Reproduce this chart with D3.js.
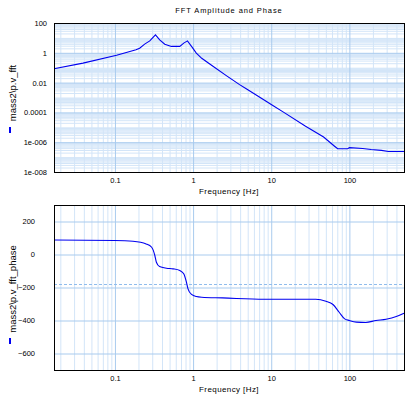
<!DOCTYPE html>
<html>
<head>
<meta charset="utf-8">
<script src="https://cdn.jsdelivr.net/npm/d3@7"></script>
<style>
  body { margin: 0; background: #fff; }
  text { font-family: "Liberation Sans", Arial, sans-serif; fill: #000; }
</style>
</head>
<body>
<svg width="412" height="398"></svg>
<script>
// amplitude spectrum
const ampFreq = [0.0166, 0.039, 0.105, 0.186, 0.207, 0.24, 0.279, 0.33, 0.374, 0.434, 0.528, 0.676,
                 0.759, 0.847, 0.955, 1.10, 1.29, 1.74, 2.69, 3.89, 4.9, 8.91, 10, 14.5, 27.5, 46.8,
                 64.6, 70.8, 95.5, 100, 148, 190, 257, 316, 500];
const ampValues = [0.085, 0.204, 0.676, 1.58, 2.04, 3.8, 6.3, 15.8, 7.4, 3.8, 2.69, 2.69,
                   4.47, 6.3, 2.69, 0.955, 0.427, 0.141, 0.0282, 0.00759, 0.00355, 5.0e-4, 3.39e-4, 1.0e-4, 1.17e-5, 2.24e-6,
                   5.37e-7, 3.63e-7, 3.63e-7, 4.3e-7, 3.8e-7, 3.24e-7, 2.82e-7, 2.4e-7, 2.4e-7];

// phase spectrum (degrees)
const phaseFreq = [0.0166, 0.1, 0.17, 0.251, 0.295, 0.324, 0.339, 0.372, 0.457, 0.555, 0.676, 0.759,
                   0.822, 0.861, 0.955, 1.10, 1.29, 2.38, 8.13, 37.2, 50.1, 61.7, 74.1, 87.1, 100,
                   123, 162, 219, 295, 398, 500];
const phaseValues = [88, 85, 80, 64, 44, -6, -47, -73, -83, -87, -97, -117,
                     -168, -208, -242, -255, -259, -263, -271, -271, -283, -303, -350, -390, -400,
                     -410, -412, -400, -392, -376, -356];

const freqTicks = [0.1, 1, 10, 100];
const freqTickLabels = ['0.1', '1', '10', '100'];
const ampTicks = [1e2, 1, 1e-2, 1e-4, 1e-6, 1e-8];
const ampTickLabels = ['100', '1', '0.01', '0.0001', '1e-006', '1e-008'];
const phaseTicks = [200, 0, -200, -400, -600];
const phaseRef = -180;

const title = 'FFT Amplitude and Phase',
      xTitle = 'Frequency [Hz]',
      ampName = 'mass2\\p.v_fft',
      phaseName = 'mass2\\p.v_fft_phase';

const left = 54, right = 404,
      top1 = 23, bottom1 = 172,
      top2 = 205, bottom2 = 370,
      minorColor = '#d3e5f8',
      majorColor = '#a9cbee',
      lineColor = '#0000f0';

const svg = d3.select('svg');

const x = d3.scaleLog().domain([0.0166, 500]).range([left, right]);
const yAmp = d3.scaleLog().domain([1e-8, 100]).range([bottom1, top1]);
const yPh = d3.scaleLinear().domain([-700, 300]).range([bottom2, top2]);

// grid positions 1..9 per decade
function logSteps(scale) {
  const [a, b] = d3.extent(scale.domain());
  const out = [];
  for (let e = Math.floor(Math.log10(a)); e <= Math.ceil(Math.log10(b)); e++) {
    for (let k = 1; k < 10; k++) {
      const v = k * Math.pow(10, e);
      if (v > a * 1.0001 && v < b * 0.9999) out.push(v);
    }
  }
  return out;
}

const freqMinor = logSteps(x).filter((v) => !freqTicks.includes(v));
const ampMinor = logSteps(yAmp).filter((v) => !ampTicks.some((t) => Math.abs(v / t - 1) < 1e-6));

function gridX(g, values, top, bottom, color) {
  g.append('g')
      .attr('transform', `translate(0,${bottom})`)
      .call(d3.axisBottom(x).tickValues(values).tickSize(-(bottom - top)).tickFormat(''))
      .call((a) => a.select('.domain').remove())
      .call((a) => a.selectAll('line').attr('stroke', color));
}

function gridY(g, scale, values, color) {
  g.append('g')
      .attr('transform', `translate(${left},0)`)
      .call(d3.axisLeft(scale).tickValues(values).tickSize(-(right - left)).tickFormat(''))
      .call((a) => a.select('.domain').remove())
      .call((a) => a.selectAll('line').attr('stroke', color));
}

function labelsX(bottom, y) {
  svg.append('g')
      .attr('transform', `translate(0,${bottom})`)
      .call(d3.axisBottom(x).tickValues(freqTicks).tickSize(0).tickPadding(y)
              .tickFormat((d, i) => freqTickLabels[i]))
      .call((a) => a.select('.domain').remove())
      .call((a) => a.selectAll('text')
                    .attr('font-size', 7.5)
                    .attr('font-family', '"Liberation Sans", Arial, sans-serif'));
}

function labelsY(scale, ticks, fmt, xEnd) {
  svg.append('g')
      .attr('transform', `translate(${xEnd},0)`)
      .call(d3.axisLeft(scale).tickValues(ticks).tickSize(0).tickPadding(0).tickFormat(fmt))
      .call((a) => a.select('.domain').remove())
      .call((a) => a.selectAll('text')
                    .attr('font-size', 7.5)
                    .attr('font-family', '"Liberation Sans", Arial, sans-serif'));
}

function yTitle(name, cy, markY) {
  svg.append('text')
      .attr('transform', `translate(15.5,${cy}) rotate(-90)`)
      .attr('text-anchor', 'middle')
      .attr('font-size', 9.5)
      .text(name);
  svg.append('rect')
      .attr('x', 9)
      .attr('y', markY)
      .attr('width', 2)
      .attr('height', 6)
      .attr('fill', lineColor);
}

// ---- amplitude panel
const g1 = svg.append('g');
gridX(g1, freqMinor, top1, bottom1, minorColor);
gridY(g1, yAmp, ampMinor, minorColor);
gridX(g1, freqTicks, top1, bottom1, majorColor);
gridY(g1, yAmp, ampTicks, majorColor);

g1.append('path')
    .datum(ampFreq.map((f, i) => [f, ampValues[i]]))
    .attr('fill', 'none')
    .attr('stroke', lineColor)
    .attr('stroke-width', 1.1)
    .attr('d', d3.line().x((d) => x(d[0])).y((d) => yAmp(d[1])));

g1.append('rect')
    .attr('x', left + 0.5).attr('y', top1 + 0.5)
    .attr('width', right - left).attr('height', bottom1 - top1)
    .attr('fill', 'none').attr('stroke', '#000');

labelsX(bottom1, 6);
labelsY(yAmp, ampTicks, (d, i) => ampTickLabels[i], 47);
yTitle(ampName, 93, 127);

svg.append('text')
    .attr('x', 229).attr('y', 13)
    .attr('text-anchor', 'middle')
    .attr('font-size', 7.5)
    .attr('letter-spacing', 0.9)
    .text(title);

svg.append('text')
    .attr('x', 229).attr('y', 194)
    .attr('text-anchor', 'middle')
    .attr('font-size', 8)
    .attr('letter-spacing', 0.4)
    .text(xTitle);

// ---- phase panel
const g2 = svg.append('g');
gridX(g2, freqMinor, top2, bottom2, minorColor);
gridX(g2, freqTicks, top2, bottom2, majorColor);
gridY(g2, yPh, phaseTicks, majorColor);

g2.append('line')
    .attr('x1', left).attr('x2', right)
    .attr('y1', Math.round(yPh(phaseRef)) + 0.5).attr('y2', Math.round(yPh(phaseRef)) + 0.5)
    .attr('stroke', '#8fbcec')
    .attr('stroke-dasharray', '3,2');

g2.append('path')
    .datum(phaseFreq.map((f, i) => [f, phaseValues[i]]))
    .attr('fill', 'none')
    .attr('stroke', lineColor)
    .attr('stroke-width', 1.1)
    .attr('d', d3.line().curve(d3.curveMonotoneX).x((d) => x(d[0])).y((d) => yPh(d[1])));

g2.append('rect')
    .attr('x', left + 0.5).attr('y', top2 + 0.5)
    .attr('width', right - left).attr('height', bottom2 - top2)
    .attr('fill', 'none').attr('stroke', '#000');

labelsX(bottom2, 6);
labelsY(yPh, phaseTicks, d3.format('d'), 35);
yTitle(phaseName, 289, 338);

svg.append('text')
    .attr('x', 229).attr('y', 392)
    .attr('text-anchor', 'middle')
    .attr('font-size', 8)
    .attr('letter-spacing', 0.4)
    .text(xTitle);
</script>
</body>
</html>
